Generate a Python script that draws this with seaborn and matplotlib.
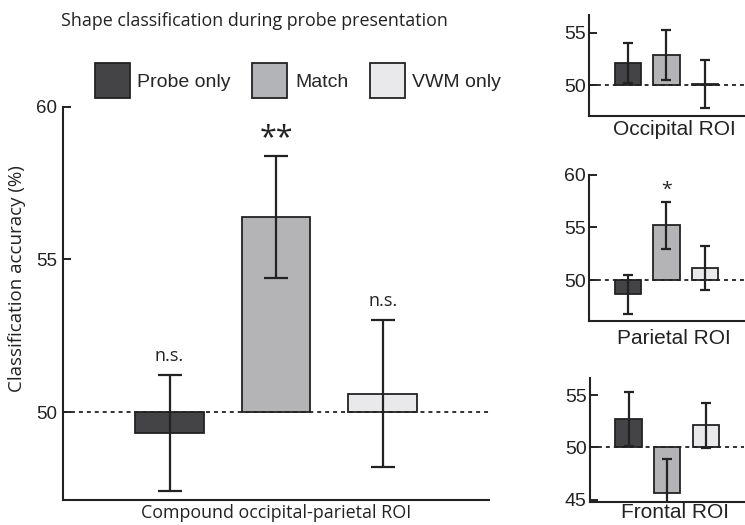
import numpy as np
import pandas as pd
import seaborn as sns
import matplotlib.pyplot as plt
from matplotlib.patches import Patch
from matplotlib.ticker import FuncFormatter

# data (classification accuracy in %)
conditions = ["Probe only", "Match", "VWM only"]
colors = ["#444446", "#b3b4b8", "#e9e9eb"]
chance = 50

compound_acc = [49.3, 56.4, 50.6]
compound_err = [1.9, 2.0, 2.4]
compound_sig = ["n.s.", "**", "n.s."]

occipital_acc = [52.1, 52.9, 50.1]
occipital_err = [1.9, 2.4, 2.3]

parietal_acc = [48.65, 55.2, 51.15]
parietal_err = [1.85, 2.25, 2.05]
parietal_sig = ["", "*", ""]

frontal_acc = [52.7, 45.6, 52.1]
frontal_err = [2.6, 3.3, 2.15]

sns.set_style("ticks")
plt.rcParams['font.family'] = ["Liberation Sans", "DejaVu Sans"]
HUM = ["Open Sans", "DejaVu Sans"]  # Myriad-like text
INK = "#222222"


def draw_panel(ax, acc, err, ylim, yticks, capsize, width, tick_fs, pad):
    df = pd.DataFrame({"cond": conditions, "acc": acc, "err": err})
    df["delta"] = df["acc"] - chance  # bars grow from chance level
    sns.barplot(data=df, x="cond", y="delta", hue="cond", palette=colors,
                hue_order=conditions, order=conditions, width=width,
                edgecolor=INK, linewidth=1.3, errorbar=None, legend=False, ax=ax)
    ax.errorbar(x=np.arange(len(df)), y=df["delta"], yerr=df["err"], fmt="none",
                ecolor=INK, elinewidth=1.6, capsize=capsize, capthick=1.6, zorder=4)
    ax.axhline(0, color=INK, lw=1.3, ls=(0, (2.2, 2.2)), zorder=1)
    ax.set_xlim(-1, 3)
    ax.set_ylim(ylim[0] - chance, ylim[1] - chance)
    ax.set_yticks([t - chance for t in yticks])
    ax.yaxis.set_major_formatter(FuncFormatter(lambda v, p: f"{v + chance:.0f}"))
    ax.set_xticks([])
    ax.set_ylabel("")
    ax.tick_params(axis="y", direction="in", length=6, width=1.4,
                   labelsize=tick_fs, colors=INK, labelcolor=INK, pad=pad)
    sns.despine(ax=ax)
    for s in ["left", "bottom"]:
        ax.spines[s].set_linewidth(1.5)
        ax.spines[s].set_color(INK)
    return df


fig = plt.figure(figsize=(7.45, 5.25), dpi=100)

# main panel
ax = fig.add_axes([0.0846, 0.0476, 0.572, 0.749])
df = draw_panel(ax, compound_acc, compound_err, (47.12, 60), [50, 55, 60], 8.6, 0.645,
                13.5, 4)
for i, lab in enumerate(compound_sig):
    top = df["delta"][i] + df["err"][i]
    if lab == "**":
        ax.text(i, top + 0.08, lab, ha="center", va="bottom", fontsize=22, color=INK,
                family=HUM)
    else:
        ax.text(i, top + 0.35, lab, ha="center", va="bottom", fontsize=13, color=INK,
                family=HUM)
ax.set_xlabel("Compound occipital-parietal ROI", fontsize=12.9, family=HUM,
              labelpad=3, color=INK)
ax.set_ylabel("Classification accuracy (%)", fontsize=13.5, family=HUM, color=INK)
ax.yaxis.set_label_coords(-0.087, 0.564)

# small panels
axo = fig.add_axes([0.7906, 0.7796, 0.208, 0.1918])
draw_panel(axo, occipital_acc, occipital_err, (47.1, 56.7), [50, 55], 3.6, 0.68, 14, 2.5)
axo.set_xlabel("Occipital ROI", fontsize=15, labelpad=3, color=INK)
axo.xaxis.label.set_x(0.55)

axp = fig.add_axes([0.7906, 0.389, 0.208, 0.278])
dfp = draw_panel(axp, parietal_acc, parietal_err, (46.13, 60), [50, 55, 60], 3.6, 0.68,
                 14, 2.5)
for i, lab in enumerate(parietal_sig):
    if lab:
        axp.text(i, dfp["delta"][i] + dfp["err"][i] + 0.3, lab, ha="center",
                 va="bottom", fontsize=14, color=INK, family=HUM)
axp.set_xlabel("Parietal ROI", fontsize=15, labelpad=6, color=INK)
axp.xaxis.label.set_x(0.55)

axf = fig.add_axes([0.7920, 0.0444, 0.207, 0.235])
draw_panel(axf, frontal_acc, frontal_err, (44.8, 56.6), [45, 50, 55], 3.6, 0.68, 14, 2.5)
axf.set_xlabel("Frontal ROI", fontsize=15, labelpad=1, color=INK)
axf.xaxis.label.set_x(0.55)

# title and legend
fig.text(0.341, 0.96, "Shape classification during probe presentation",
         ha="center", va="center", fontsize=12.9, family=HUM, color=INK)
handles = [Patch(facecolor=c, edgecolor=INK, linewidth=1.3) for c in colors]
fig.legend(handles, conditions, loc="center", bbox_to_anchor=(0.40, 0.846),
           ncol=3, frameon=False, fontsize=14, handlelength=1.8, handleheight=2.4,
           handletextpad=0.4, columnspacing=1.1)

fig.savefig("out.png", dpi=100)
